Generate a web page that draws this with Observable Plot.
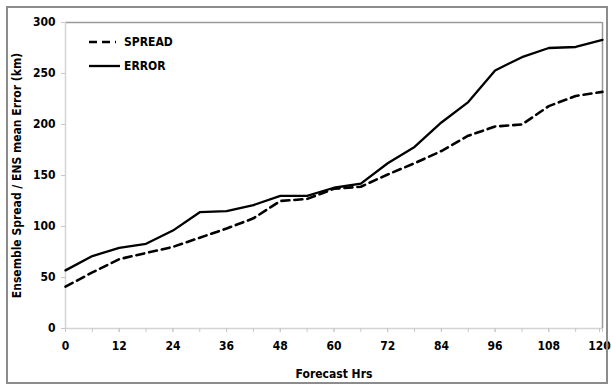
<!DOCTYPE html>
<html>
<head>
<meta charset="utf-8">
<script src="https://cdn.jsdelivr.net/npm/d3@7"></script>
<script src="https://cdn.jsdelivr.net/npm/@observablehq/plot@0.6"></script>
<style>
  html, body { margin: 0; padding: 0; background: #fff; overflow: hidden; }
  #wrap { position: relative; width: 611px; height: 385px; overflow: hidden; }
  #border { position: absolute; left: 6px; top: 6px; width: 598px; height: 374px; border: 2px solid #8c8c8c; pointer-events: none; }
  #legend { position: absolute; left: 0; top: 0; pointer-events: none; }
  svg text { font-family: "DejaVu Sans Condensed", "DejaVu Sans", sans-serif; }
</style>
</head>
<body>
<div id="wrap"><div id="border"></div></div>
<script>
const hours  = [0, 6, 12, 18, 24, 30, 36, 42, 48, 54, 60, 66, 72, 78, 84, 90, 96, 102, 108, 114, 120];
const spread = [41, 55, 68, 74, 80, 89, 98, 108, 125, 127, 137, 139, 151, 162, 174, 189, 198, 200, 218, 228, 232];
const error  = [57, 71, 79, 83, 96, 114, 115, 121, 130, 130, 138, 142, 162, 178, 202, 222, 253, 266, 275, 276, 283];
const xTicks = [0, 6, 12, 18, 24, 30, 36, 42, 48, 54, 60, 66, 72, 78, 84, 90, 96, 102, 108, 114, 120];
const xLabels = [0, 12, 24, 36, 48, 60, 72, 84, 96, 108];
const xLastLabel = [120];
const yTicks = [0, 50, 100, 150, 200, 250, 300];
const seriesNames = ["SPREAD", "ERROR"];

const rows = [];
hours.forEach((h, i) => {
  rows.push({h, v: spread[i], s: "SPREAD"});
  rows.push({h, v: error[i], s: "ERROR"});
});

const chart = Plot.plot({
  width: 611,
  height: 385,
  marginLeft: 65,
  marginRight: 9,
  marginTop: 22,
  marginBottom: 57,
  style: { fontSize: "12px", fontWeight: "bold", color: "#000", background: "transparent", overflow: "visible" },
  x: { domain: [0, 120] },
  y: { domain: [0, 300] },
  marks: [
    Plot.ruleY([300], { stroke: "#9a9a9a", strokeWidth: 1.5 }),
    Plot.ruleX([120], { stroke: "#9a9a9a", strokeWidth: 1.5 }),
    Plot.ruleX([0], { stroke: "#d4d4d4", strokeWidth: 1.5 }),
    Plot.ruleY([0], { stroke: "#d4d4d4", strokeWidth: 1.5 }),
    Plot.axisY({ ticks: yTicks, tickSize: 4, stroke: "#c8c8c8", tickPadding: 6,
      label: "Ensemble Spread / ENS mean Error (km)", labelAnchor: "center", labelArrow: "none", labelOffset: 53 }),
    Plot.axisX({ ticks: xTicks, tickSize: 4, stroke: "#c8c8c8", text: null,
      label: "Forecast Hrs", labelAnchor: "center", labelArrow: "none", labelOffset: 49 }),
    Plot.axisX({ ticks: xLabels, tickSize: 4, stroke: "#c8c8c8", tickPadding: 9, label: null }),
    Plot.axisX({ ticks: xLastLabel, tickSize: 4, stroke: "#c8c8c8", tickPadding: 9, dx: -3, label: null }),
    Plot.line(rows.filter(d => d.s === "ERROR"), { x: "h", y: "v", stroke: "#000", strokeWidth: 2.3 }),
    Plot.line(rows.filter(d => d.s === "SPREAD"), { x: "h", y: "v", stroke: "#000", strokeWidth: 2.6, strokeDasharray: "8,5" })
  ]
});
document.getElementById("wrap").prepend(chart);

// legend overlay
const ns = "http://www.w3.org/2000/svg";
const leg = document.createElementNS(ns, "svg");
leg.setAttribute("id", "legend");
leg.setAttribute("width", 611);
leg.setAttribute("height", 385);
const items = [
  { name: seriesNames[0], dash: "8,5", y: 42, x2: 116 },
  { name: seriesNames[1], dash: null, y: 66, x2: 120 }
];
items.forEach(it => {
  const l = document.createElementNS(ns, "line");
  l.setAttribute("x1", 89); l.setAttribute("x2", it.x2);
  l.setAttribute("y1", it.y); l.setAttribute("y2", it.y);
  l.setAttribute("stroke", "#000");
  l.setAttribute("stroke-width", it.dash ? 2.6 : 2.3);
  if (it.dash) l.setAttribute("stroke-dasharray", it.dash);
  leg.appendChild(l);
  const t = document.createElementNS(ns, "text");
  t.setAttribute("x", 124); t.setAttribute("y", it.y + 4);
  t.setAttribute("font-size", "12px");
  t.setAttribute("font-weight", "bold");
  t.textContent = it.name;
  leg.appendChild(t);
});
document.getElementById("wrap").appendChild(leg);
</script>
</body>
</html>
